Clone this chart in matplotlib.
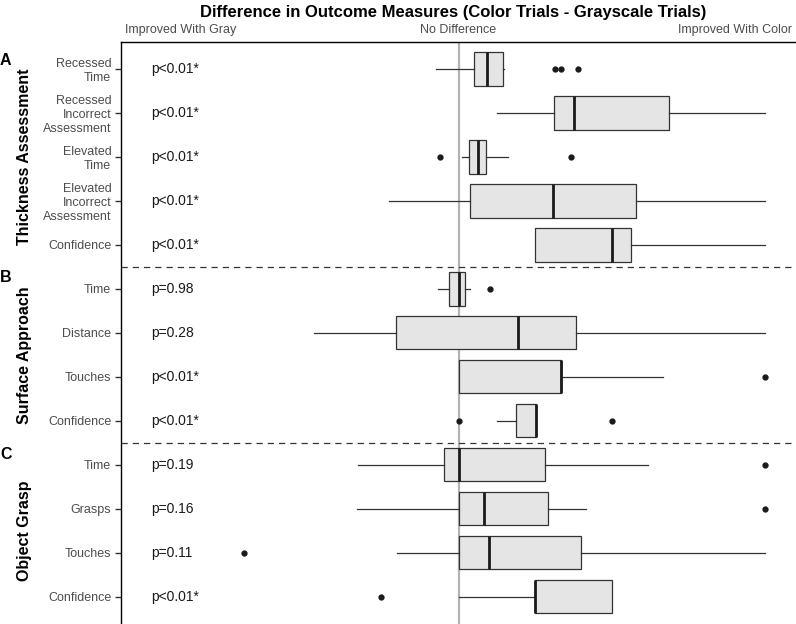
import matplotlib
matplotlib.use("Agg")
import matplotlib.pyplot as plt
import matplotlib.transforms as mtransforms

plt.rcParams["font.family"] = ["Liberation Sans", "DejaVu Sans"]

# rows from top to bottom
row_labels = [
    "Recessed\nTime", "Recessed\nIncorrect\nAssessment", "Elevated\nTime",
    "Elevated\nIncorrect\nAssessment", "Confidence",
    "Time", "Distance", "Touches", "Confidence",
    "Time", "Grasps", "Touches", "Confidence",
]
p_labels = [
    "p<0.01*", "p<0.01*", "p<0.01*", "p<0.01*", "p<0.01*",
    "p=0.98", "p=0.28", "p<0.01*", "p<0.01*",
    "p=0.19", "p=0.16", "p=0.11", "p<0.01*",
]
# box summaries (scaled difference, color - grayscale)
whislo = [-0.073, 0.126, 0.011, -0.228, 0.250, -0.067, -0.470, 0.0, 0.126, -0.329, -0.332, -0.199, 0.0]
q1 = [0.051, 0.312, 0.034, 0.038, 0.250, -0.030, -0.204, 0.0, 0.188, -0.046, 0.0, 0.0, 0.249]
med = [0.092, 0.375, 0.064, 0.307, 0.499, 0.0, 0.195, 0.333, 0.251, 0.0, 0.083, 0.100, 0.249]
q3 = [0.144, 0.687, 0.089, 0.578, 0.561, 0.021, 0.382, 0.335, 0.252, 0.282, 0.292, 0.400, 0.499]
whishi = [0.148, 0.998, 0.162, 0.998, 0.998, 0.039, 0.998, 0.666, 0.252, 0.618, 0.416, 1.0, 0.499]
outliers = [
    [0.316, 0.335, 0.389], [], [-0.059, 0.367], [], [],
    [0.104], [], [1.0], [0.0, 0.499],
    [1.0], [1.0], [-0.700], [-0.251],
]
groups = ["Thickness Assessment", "Surface Approach", "Object Grasp"]
group_letters = ["A", "B", "C"]
group_rows = [(0, 4), (5, 8), (9, 12)]
x_labels = ["Improved With Gray", "No Difference", "Improved With Color"]

fig = plt.figure(figsize=(7.96, 6.24), dpi=100)
ax = fig.add_axes([121 / 796, 0.0, 1 - 121 / 796, 1 - 42 / 624])

stats = []
for i in range(len(row_labels)):
    stats.append({
        "whislo": whislo[i], "q1": q1[i], "med": med[i], "q3": q3[i],
        "whishi": whishi[i], "fliers": outliers[i],
    })
positions = list(range(len(row_labels)))

ax.axvline(0, color="#b3b3b3", lw=1.6, zorder=0)
for yy in (4.5, 8.5):
    ax.axhline(yy, color="#333333", lw=0.9, ls=(0, (5, 4)), zorder=1)

ax.bxp(
    stats, positions=positions, vert=False, widths=0.76, showcaps=False,
    patch_artist=True,
    boxprops=dict(facecolor="#e5e5e5", edgecolor="#333333", linewidth=0.9),
    medianprops=dict(color="#1a1a1a", linewidth=2.0),
    whiskerprops=dict(color="#333333", linewidth=0.9),
    flierprops=dict(marker="o", markerfacecolor="#1a1a1a", markeredgecolor="#1a1a1a", markersize=3.5),
)

ax.set_xlim(-1.1, 1.1)
ax.set_ylim(12.62, -0.61)

ax.set_yticks(positions)
ax.set_yticklabels(row_labels, fontsize=9, color="#4d4d4d")
ax.tick_params(axis="y", length=4, width=1, color="#333333", pad=3)

ax.xaxis.tick_top()
ax.set_xticks([-1.1, 0, 1.1])
ax.set_xticklabels(x_labels, fontsize=9, color="#4d4d4d")
ax.tick_params(axis="x", length=0, pad=4)
xt = ax.get_xticklabels()
xt[0].set_ha("left")
xt[2].set_ha("right")
xt[0].set_transform(xt[0].get_transform() + mtransforms.ScaledTranslation(4 / 100, 0, fig.dpi_scale_trans))
xt[2].set_transform(xt[2].get_transform() + mtransforms.ScaledTranslation(-4 / 100, 0, fig.dpi_scale_trans))

ax.spines["right"].set_visible(False)
ax.spines["bottom"].set_visible(False)
ax.spines["top"].set_linewidth(1.0)
ax.spines["left"].set_linewidth(1.0)

for i, p in enumerate(p_labels):
    ax.text(-1.002, i, p, ha="left", va="center", fontsize=10, color="#1a1a1a")

ax.set_title("Difference in Outcome Measures (Color Trials - Grayscale Trials)",
             fontsize=12, fontweight="bold", pad=18, x=0.4926)

trans = mtransforms.blended_transform_factory(fig.transFigure, ax.transData)
for name, letter, (r0, r1), ly in zip(groups, group_letters, group_rows, [-0.2, 4.75, 8.77]):
    fig.text(25 / 796, (r0 + r1) / 2, name, rotation=90, ha="center", va="center",
             fontsize=11.5, fontweight="bold", transform=trans)
    fig.text(0.0, ly, letter, ha="left", va="center", fontsize=11.5,
             fontweight="bold", transform=trans)

fig.savefig("out.png", dpi=100)
